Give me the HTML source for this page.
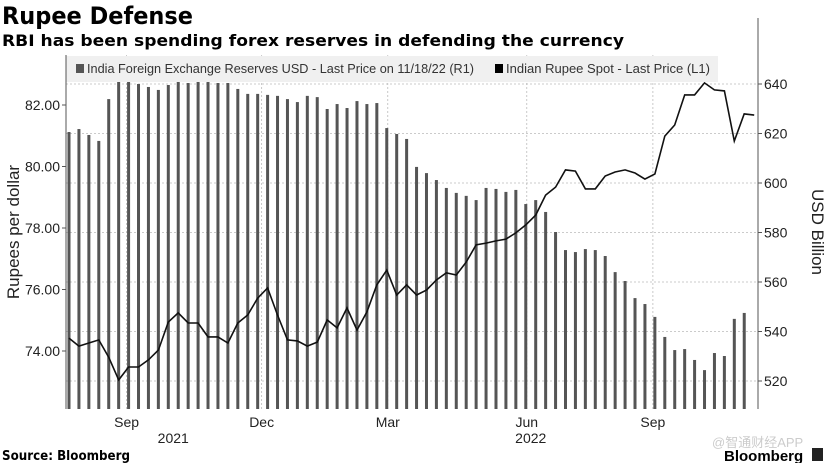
<!DOCTYPE html>
<html><head><meta charset="utf-8"><style>
body{margin:0;background:#fff;width:828px;height:463px;overflow:hidden;font-family:"Liberation Sans",sans-serif}
</style></head><body>
<svg id="chart" width="828" height="463" xmlns="http://www.w3.org/2000/svg" font-family="Liberation Sans, sans-serif">
<text x="2" y="24" font-size="24" font-weight="bold" fill="#000" font-family="DejaVu Sans, sans-serif" textLength="191" lengthAdjust="spacingAndGlyphs">Rupee Defense</text>
<text x="2" y="46" font-size="16" font-weight="bold" fill="#000" font-family="DejaVu Sans, sans-serif" textLength="622" lengthAdjust="spacingAndGlyphs">RBI has been spending forex reserves in defending the currency</text>
<g id="grid"></g>
<g id="bars"></g>
<path id="line" fill="none" stroke="#111" stroke-width="1.6"/>
<rect x="66" y="56" width="652" height="26" fill="#f0f0f0"/>
<rect x="76" y="64" width="8" height="9" fill="#555"/>
<text x="87" y="73" font-size="12.5" fill="#333" textLength="387" lengthAdjust="spacingAndGlyphs">India Foreign Exchange Reserves USD - Last Price on 11/18/22 (R1)</text>
<rect x="495" y="64" width="8" height="9" fill="#000"/>
<text x="506" y="73" font-size="12.5" fill="#333" textLength="204" lengthAdjust="spacingAndGlyphs">Indian Rupee Spot - Last Price (L1)</text>
<g id="axes"></g>
<text transform="translate(19,232) rotate(-90)" text-anchor="middle" font-size="17" fill="#222">Rupees per dollar</text>
<text transform="translate(812,232) rotate(90)" text-anchor="middle" font-size="17" fill="#222">USD Billion</text>
<text x="2" y="460" font-size="13" font-weight="bold" fill="#000" font-family="DejaVu Sans, sans-serif" textLength="128" lengthAdjust="spacingAndGlyphs">Source: Bloomberg</text>
<text x="712" y="447" font-size="13" fill="#ccc" font-family="Liberation Sans, Noto Sans CJK SC, sans-serif">@智通财经APP</text>
<text x="724" y="461" font-size="15" font-weight="bold" fill="#000">Bloomberg</text>
<rect x="812" y="448" width="11" height="13" fill="#222"/>
</svg>
<script>
const reserves=[620.6,621.8,619.4,617.0,633.9,642.8,641.2,640.0,638.8,637.6,639.6,641.2,640.4,642.0,640.8,640.4,640.4,638.0,636.0,636.0,635.6,635.2,633.9,632.7,635.2,634.7,629.9,631.9,630.3,633.1,631.9,632.3,622.2,619.8,617.8,606.5,604.0,601.2,598.0,596.0,594.8,593.1,598.0,597.6,596.4,597.2,591.5,593.1,588.3,580.2,572.9,572.1,573.3,572.9,570.5,564.0,560.4,553.5,551.1,545.9,537.8,532.5,532.9,528.5,524.4,531.3,530.1,545.1,547.5];
const rupee=[74.42,74.16,74.26,74.36,73.80,73.06,73.48,73.48,73.71,74.03,74.94,75.24,74.91,74.91,74.46,74.46,74.26,74.91,75.17,75.72,76.05,75.17,74.36,74.33,74.16,74.29,75.01,74.75,75.40,74.68,75.27,76.15,76.63,75.82,76.15,75.82,75.98,76.31,76.54,76.47,76.89,77.45,77.51,77.58,77.64,77.84,78.10,78.42,79.07,79.33,79.89,79.85,79.27,79.27,79.69,79.82,79.89,79.79,79.59,79.76,80.99,81.35,82.33,82.33,82.72,82.49,82.46,80.83,81.71,81.67];
const leftTicks=[82,80,78,76,74];
const leftLabels=["82.00","80.00","78.00","76.00","74.00"];
const rightTicks=[640,620,600,580,560,540,520];
const monthIdx=[5.8,19.4,32.1,46.1,58.8];
const monthLabels=["Sep","Dec","Mar","Jun","Sep"];
const yearIdx=[10.5,46.5];
const yearLabels=["2021","2022"];
const NS="http://www.w3.org/2000/svg";
const X0=69,DX=9.93,TOP=55,BOT=409,L=66,R=758;
const x=i=>X0+i*DX;
const yL=v=>105+(82-v)*30.75;
const yR=v=>84+(640-v)*49.5/20;
function mk(tag,at,parent){const e=document.createElementNS(NS,tag);for(const k in at)e.setAttribute(k,at[k]);parent.appendChild(e);return e;}
const grid=document.getElementById('grid'),bars=document.getElementById('bars'),axes=document.getElementById('axes');
rightTicks.forEach(v=>{const g=mk('line',{x1:L,x2:R,y1:yR(v),y2:yR(v),stroke:'#bbb','stroke-dasharray':'2,2','stroke-width':0.8},grid);

});
monthIdx.forEach(m=>{const g=mk('line',{x1:x(m),x2:x(m),y1:TOP,y2:BOT,stroke:'#bbb','stroke-dasharray':'2,2','stroke-width':0.8},grid);

});
reserves.forEach((v,i)=>{const b=mk('rect',{x:x(i)-1.5,y:yR(v),width:3,height:BOT-yR(v),fill:'#555'},bars);

});
document.getElementById('line').setAttribute('d',rupee.map((v,i)=>(i?'L':'M')+x(i).toFixed(1)+','+yL(v).toFixed(1)).join(''));
mk('line',{x1:L,x2:L,y1:TOP,y2:BOT,stroke:'#555'},axes);
mk('line',{x1:R,x2:R,y1:18,y2:BOT,stroke:'#555'},axes);
leftTicks.forEach((v,i)=>{mk('line',{x1:L-4,x2:L,y1:yL(v),y2:yL(v),stroke:'#555'},axes);
const t=mk('text',{x:L-6,y:yL(v)+5,'text-anchor':'end','font-size':14,fill:'#222'},axes);t.textContent=leftLabels[i];

});
rightTicks.forEach(v=>{mk('line',{x1:R,x2:R+4,y1:yR(v),y2:yR(v),stroke:'#555'},axes);
const t=mk('text',{x:R+6,y:yR(v)+5,'font-size':14,fill:'#222'},axes);t.textContent=v;

});
monthIdx.forEach((m,i)=>{const t=mk('text',{x:x(m),y:427,'text-anchor':'middle','font-size':14,fill:'#222'},axes);t.textContent=monthLabels[i];

});
yearIdx.forEach((m,i)=>{const t=mk('text',{x:x(m),y:443,'text-anchor':'middle','font-size':14,fill:'#222'},axes);t.textContent=yearLabels[i];

});
</script>
</body></html>
